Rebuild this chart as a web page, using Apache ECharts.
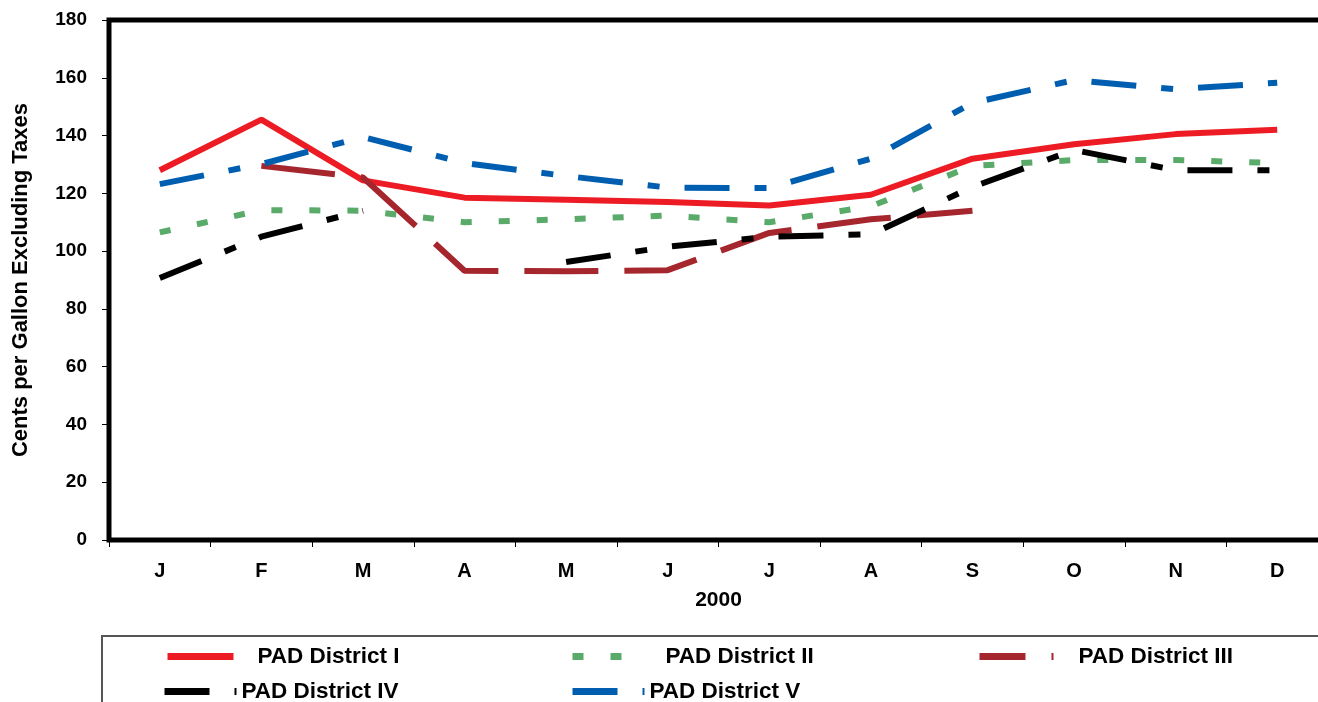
<!DOCTYPE html>
<html>
<head>
<meta charset="utf-8">
<style>
  html, body { margin: 0; padding: 0; background: #fff; }
  #chart { width: 1318px; height: 702px; }
</style>
<script src="https://cdn.jsdelivr.net/npm/echarts@6/dist/echarts.min.js"></script>
</head>
<body>
<div id="chart"></div>
<script>
const months = ['J', 'F', 'M', 'A', 'M', 'J', 'J', 'A', 'S', 'O', 'N', 'D']
const yTicks = [0, 20, 40, 60, 80, 100, 120, 140, 160, 180]
const padI = [128, 145.5, 124.5, 118.5, 117.8, 117, 115.8, 119.5, 132, 137, 140.5, 142]
const padII = [106.5, 114.2, 114, 110, 111, 112.3, 110, 115.5, 129.5, 131.5, 131.5, 130.5]
const padIII = [null, 129.5, 125.5, 93.2, 93, 93.4, 106.3, 111, 114, null, null, null]
const padIV = [90.7, 105, 114, null, 96.2, 101.5, 105, 105.8, 122.2, 135, 128, 128]
const padV = [123.2, 130.1, 139.5, 130.5, 126, 122, 121.8, 132, 151.3, 159.2, 156, 158.3]

const names = ['PAD District I', 'PAD District II', 'PAD District III', 'PAD District IV', 'PAD District V']
const colors = ['#ED1C24', '#5AAA6A', '#A6262E', '#000000', '#005EB0']
const dashes = ['solid', [11, 27], [74, 26], [45, 25, 12, 25], [45, 25, 12, 25]]
const values = [padI, padII, padIII, padIV, padV]

const font = '"Liberation Sans", Arial, sans-serif'

function mkLegend(i, left, top, width, gap, dash) {
  return {
    data: [names[i]],
    left: left,
    top: top,
    padding: 0,
    itemWidth: width,
    itemHeight: 14,
    selectedMode: false,
    itemStyle: { opacity: 0 },
    lineStyle: { type: dash || 'inherit', width: 7, cap: 'butt' },
    textStyle: {
      color: '#000',
      fontFamily: font,
      fontWeight: 'bold',
      fontSize: 22.5,
      padding: [0, 0, 0, gap]
    }
  }
}

let myChart = echarts.init(document.getElementById('chart'))
myChart.setOption({
  animation: false,
  grid: {
    show: true,
    left: 109,
    top: 20,
    width: 1219,
    height: 520,
    outerBoundsMode: 'none',
    borderColor: '#000',
    borderWidth: 5
  },
  graphic: [{
    type: 'rect',
    shape: { x: 102, y: 636, width: 1300, height: 100 },
    style: { fill: 'none', stroke: '#555', lineWidth: 2 }
  }],
  legend: [
    mkLegend(0, 164, 645, 66, 19),
    mkLegend(1, 569, 645, 52, 36),
    mkLegend(2, 976, 645, 74, 20, [46, 26]),
    mkLegend(3, 161, 680, 72, 0),
    mkLegend(4, 569, 680, 72, 0)
  ],
  xAxis: {
    type: 'category',
    data: months,
    name: '2000',
    nameLocation: 'middle',
    nameGap: 50,
    nameTextStyle: { color: '#000', fontFamily: font, fontWeight: 'bold', fontSize: 21 },
    axisLine: { show: false },
    axisTick: { show: true, length: 7, lineStyle: { color: '#000', width: 1 } },
    axisLabel: { color: '#000', fontFamily: font, fontWeight: 'bold', fontSize: 20, margin: 21 },
    splitLine: { show: false }
  },
  yAxis: {
    type: 'value',
    min: yTicks[0],
    max: yTicks[yTicks.length - 1],
    interval: 20,
    name: 'Cents per Gallon Excluding Taxes',
    nameLocation: 'middle',
    nameGap: 77,
    nameTextStyle: { color: '#000', fontFamily: font, fontWeight: 'bold', fontSize: 22 },
    axisLine: { show: false },
    axisTick: { show: true, length: 7, lineStyle: { color: '#000', width: 1 } },
    axisLabel: { color: '#000', fontFamily: font, fontWeight: 'bold', fontSize: 19, margin: 22 },
    splitLine: { show: false }
  },
  series: names.map((n, i) => ({
    name: n,
    type: 'line',
    data: values[i],
    symbol: 'none',
    connectNulls: false,
    color: colors[i],
    lineStyle: { color: colors[i], width: 6, type: dashes[i], cap: 'butt' }
  }))
})
</script>
</body>
</html>
